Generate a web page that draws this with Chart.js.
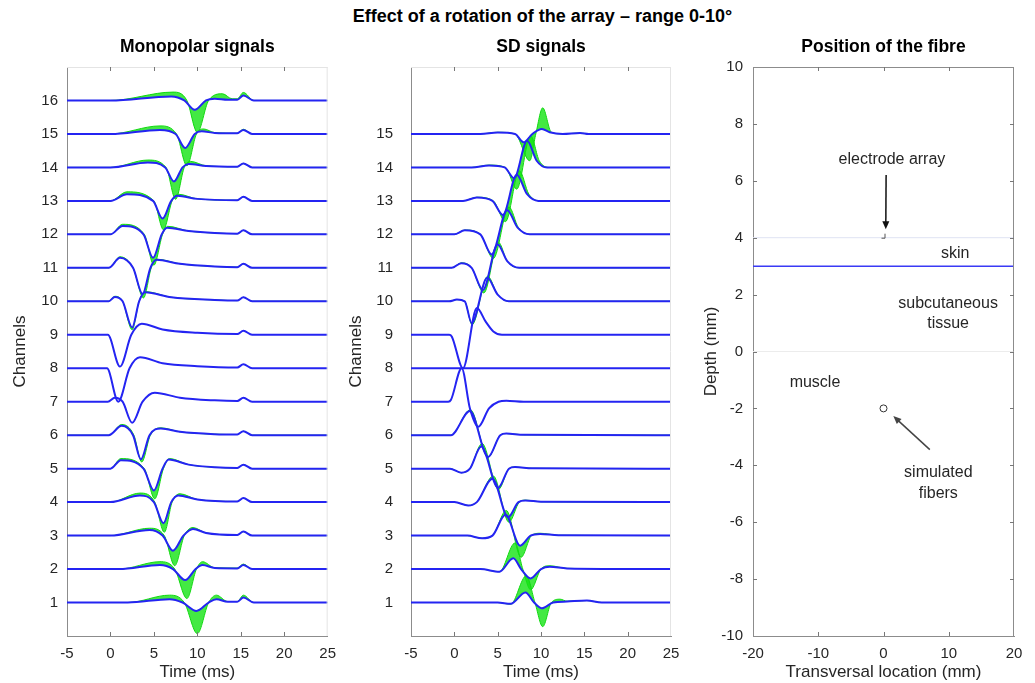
<!DOCTYPE html>
<html>
<head>
<meta charset="utf-8">
<script src="https://cdn.jsdelivr.net/npm/chart.js@4.4.1/dist/chart.umd.min.js"></script>
<style>
  html, body { margin: 0; padding: 0; background: #fff; }
  body { width: 1035px; height: 683px; position: relative; overflow: hidden; font-family: 'Liberation Sans', Arial, sans-serif; }
  #suptitle { position: absolute; top: 6px; left: 0; width: 1085px; text-align: center; font-weight: bold; font-size: 18px; color: #000; }
  .panel { position: absolute; top: 0; width: 345px; height: 683px; }
</style>
</head>
<body>
<div id="suptitle">Effect of a rotation of the array – range 0-10°</div>
<div class="panel" style="left:0px"><canvas id="monoChart" width="345" height="683"></canvas></div>
<div class="panel" style="left:345px"><canvas id="sdChart" width="345" height="683"></canvas></div>
<div class="panel" style="left:690px"><canvas id="fibreChart" width="345" height="683"></canvas></div>
<script>
// ---- data: [time ms, amplitude in channel units] ----
const timeTicks = [-5, 0, 5, 10, 15, 20, 25];
const monoChannels = [1, 2, 3, 4, 5, 6, 7, 8, 9, 10, 11, 12, 13, 14, 15, 16];
const sdChannels = [1, 2, 3, 4, 5, 6, 7, 8, 9, 10, 11, 12, 13, 14, 15];

// monopolar, blue trace (channel 1 first)
const monoBlue = [
  [[-5,0],[2,0],[6.8,0.1],[8.3,0],[9.9,-0.25],[11.3,0],[12.2,0.1],[13.5,0.02],[14.6,0.02],[15.3,0.15],[16.5,0],[25,0]],
  [[-5,0],[1,0],[5.7,0.12],[7.2,0],[8.6,-0.33],[9.8,0],[10.6,0.12],[12,0.03],[14.6,0.02],[15.3,0.12],[16.3,0],[25,0]],
  [[-5,0],[0,0],[4.5,0.17],[6,0],[7.2,-0.45],[8.4,0],[9.5,0.2],[11,0.08],[14.6,0.02],[15.3,0.12],[16.3,0],[25,0]],
  [[-5,0],[0,0],[3.4,0.2],[5,0],[6.1,-0.63],[7,0],[7.8,0.2],[10,0.08],[14.6,0.02],[15.3,0.12],[16.3,0],[25,0]],
  [[-5,0],[0,0],[1.2,0.25],[3.8,0],[5,-0.65],[6,0],[6.7,0.27],[9,0.12],[12,0.04],[14.6,0.02],[15.3,0.12],[16.3,0],[25,0]],
  [[-5,0],[-0.2,0],[1.3,0.28],[2.6,0],[3.5,-0.72],[4.5,0],[5.8,0.2],[8,0.1],[12,0.03],[14.6,0.02],[15.3,0.12],[16.3,0],[25,0]],
  [[-5,0],[-0.3,0],[0.5,0.12],[1.4,0],[2.5,-0.63],[3.7,0],[5.1,0.27],[8,0.12],[12,0.04],[14.6,0.02],[15.3,0.12],[16.3,0],[25,0]],
  [[-5,0],[-0.4,0],[0.9,-1.0],[2.2,0],[3.4,0.33],[6,0.15],[10,0.06],[14.6,0.02],[15.3,0.12],[16.3,0],[25,0]],
  [[-5,0],[-0.3,0],[1.1,-0.95],[2.4,0],[3.6,0.33],[6,0.16],[10,0.06],[14.6,0.02],[15.3,0.12],[16.3,0],[25,0]],
  [[-5,0],[-0.2,0],[0.5,0.13],[1.4,0],[2.5,-0.78],[3.3,0],[4,0.27],[7,0.12],[12,0.04],[14.6,0.02],[15.3,0.12],[16.3,0],[25,0]],
  [[-5,0],[-0.2,0],[1.1,0.3],[2.6,0],[3.7,-0.78],[4.6,0],[5.3,0.24],[8,0.12],[12,0.04],[14.6,0.02],[15.3,0.12],[16.3,0],[25,0]],
  [[-5,0],[0,0],[1.4,0.25],[3.8,0],[4.9,-0.7],[5.9,0],[6.5,0.2],[9,0.1],[12,0.04],[14.6,0.02],[15.3,0.12],[16.3,0],[25,0]],
  [[-5,0],[0,0],[1.9,0.2],[4.9,0],[6,-0.53],[7,0],[7.7,0.15],[10,0.06],[14.6,0.02],[15.3,0.12],[16.3,0],[25,0]],
  [[-5,0],[0,0],[4.3,0.15],[6.3,0],[7.3,-0.42],[8.3,0],[9,0.1],[11,0.04],[14.6,0.02],[15.3,0.12],[16.3,0],[25,0]],
  [[-5,0],[0,0],[5.7,0.12],[7.5,0],[8.6,-0.42],[9.7,0],[10.5,0.08],[12,0.03],[14.6,0.02],[15.3,0.12],[16.3,0],[25,0]],
  [[-5,0],[0,0],[7,0.12],[8.5,0],[9.7,-0.28],[11,0],[12,0.05],[13.5,0.02],[14.6,0.02],[15.3,0.15],[16.5,0],[25,0]]
];

// monopolar, outer green trace (null where the green band is not visible)
const monoGreen = [
  [[-5,0],[2,0],[6.8,0.22],[8.5,0],[10,-0.93],[11.3,0],[12.2,0.22],[13.5,0.03],[14.6,0.03],[15.3,0.22],[16.5,0],[25,0]],
  [[-5,0],[1,0],[5.7,0.22],[7.4,0],[8.8,-0.88],[9.9,0],[10.6,0.22],[12,0.04],[14.6,0.03],[15.3,0.15],[16.3,0],[25,0]],
  [[-5,0],[0,0],[4.5,0.22],[6.2,0],[7.4,-0.9],[8.5,0],[9.5,0.24],[11,0.08],[14.6,0.02],[15.3,0.12],[16.3,0],[25,0]],
  [[-5,0],[0,0],[3.4,0.27],[5.1,0],[6.2,-0.9],[7.1,0],[8,0.25],[10,0.08],[14.6,0.02],[15.3,0.12],[16.3,0],[25,0]],
  [[-5,0],[0,0],[1.2,0.3],[3.9,0],[5.1,-0.9],[6.1,0],[6.8,0.3],[9,0.12],[12,0.04],[14.6,0.02],[15.3,0.12],[16.3,0],[25,0]],
  [[-5,0],[-0.2,0],[1.3,0.32],[2.7,0],[3.6,-0.8],[4.6,0],[5.8,0.22],[8,0.1],[12,0.03],[14.6,0.02],[15.3,0.12],[16.3,0],[25,0]],
  null,
  null,
  null,
  [[-5,0],[-0.2,0],[0.5,0.15],[1.4,0],[2.5,-0.85],[3.3,0],[4,0.29],[7,0.12],[12,0.04],[14.6,0.02],[15.3,0.12],[16.3,0],[25,0]],
  [[-5,0],[-0.2,0],[1.1,0.33],[2.6,0],[3.8,-0.9],[4.7,0],[5.3,0.26],[8,0.12],[12,0.04],[14.6,0.02],[15.3,0.12],[16.3,0],[25,0]],
  [[-5,0],[0,0],[1.4,0.3],[3.9,0],[5,-0.92],[6,0],[6.6,0.24],[9,0.1],[12,0.04],[14.6,0.02],[15.3,0.12],[16.3,0],[25,0]],
  [[-5,0],[0,0],[1.9,0.27],[5,0],[6.1,-0.86],[7.1,0],[7.8,0.2],[10,0.06],[14.6,0.02],[15.3,0.12],[16.3,0],[25,0]],
  [[-5,0],[0,0],[4.3,0.22],[6.4,0],[7.5,-0.95],[8.5,0],[9.2,0.18],[11,0.05],[14.6,0.02],[15.3,0.12],[16.3,0],[25,0]],
  [[-5,0],[0,0],[5.7,0.24],[7.6,0],[8.8,-0.95],[9.9,0],[10.7,0.15],[12,0.04],[14.6,0.02],[15.3,0.14],[16.3,0],[25,0]],
  [[-5,0],[0,0],[7.2,0.25],[8.8,0],[10,-0.95],[11.3,0],[12.9,0.2],[14,0.05],[14.6,0.05],[15.3,0.24],[16.5,0],[25,0]]
];

// single differential, blue trace (channel 1 first)
const sdBlue = [
  [[-5,0],[5,0],[6.5,-0.04],[8.2,0.3],[9.2,0],[10.1,-0.17],[11.4,0],[13,0.03],[15.3,0.06],[17,0],[25,0]],
  [[-5,0],[3,0],[5.2,-0.08],[6.8,0.32],[7.7,0],[8.8,-0.28],[10,0],[11,0.07],[13,0.02],[25,0]],
  [[-5,0],[1.5,0],[3.2,-0.08],[4.4,0],[5.9,0.62],[7.6,-0.3],[8.8,0],[9.9,0.05],[12,0.01],[25,0]],
  [[-5,0],[0,0],[1.6,-0.1],[2.6,0],[4.4,0.7],[6.2,-0.45],[7.4,0],[8.2,0.05],[10,0.01],[25,0]],
  [[-5,0],[-0.5,0],[0.8,-0.12],[1.8,0],[3.1,0.66],[5.06,-0.57],[6.3,0],[7,0.05],[9,0.01],[25,0]],
  [[-5,0],[-0.4,0],[1.8,0.72],[3.9,-0.65],[5.3,0],[6,0.05],[8,0.01],[25,0]],
  [[-5,0],[-0.7,0],[-0.4,0.05],[0.85,1.0],[1.8,-0.2],[2.76,-0.75],[4,-0.2],[5.1,0],[6,0.03],[8,0],[25,0]],
  [[-5,0],[25,0]],
  [[-5,0],[-0.6,0],[-0.3,-0.05],[1.0,-1.0],[2.6,0.8],[3.6,0.4],[4.5,0.1],[5.5,0],[25,0]],
  [[-5,0],[-0.6,0],[0.3,0.05],[1.2,0],[2.0,-0.65],[3.8,0.7],[5,0.2],[6.3,0],[25,0]],
  [[-5,0],[-0.3,0],[0.8,0.14],[2,0],[3.3,-0.66],[5.0,0.7],[6.1,0.2],[7.5,0],[25,0]],
  [[-5,0],[0,0],[1.2,0.12],[3,0],[4.3,-0.6],[6.1,0.72],[7.3,0.2],[8.7,0],[25,0]],
  [[-5,0],[1,0],[2.6,0.1],[4.4,0],[5.6,-0.42],[7.2,0.78],[8.4,0.2],[9.7,0],[25,0]],
  [[-5,0],[2,0],[4,0.06],[5.8,0],[6.9,-0.32],[8.4,0.8],[9.5,0.2],[10.7,0],[25,0]],
  [[-5,0],[3,0],[5,0.04],[7,0],[8.0,-0.25],[9,0],[10.1,0.15],[11,0.05],[12.5,0],[14.5,0.03],[15.5,0],[25,0]]
];

// single differential, outer green trace
const sdGreen = [
  [[-5,0],[5,0],[6.5,-0.05],[8.3,0.8],[9.3,0],[10.2,-0.72],[11.2,0],[12.2,0.1],[13,0.04],[15.3,0.06],[17,0],[25,0]],
  [[-5,0],[3,0],[5.2,-0.08],[7,0.78],[7.9,0],[8.8,-0.62],[10,0],[11,0.1],[13,0.02],[25,0]],
  [[-5,0],[1.5,0],[3.2,-0.08],[4.4,0],[6.0,0.75],[7.7,-0.65],[8.9,0],[9.9,0.07],[12,0.01],[25,0]],
  [[-5,0],[0,0],[1.6,-0.1],[2.6,0],[4.5,0.78],[6.3,-0.6],[7.5,0],[8.2,0.06],[10,0.01],[25,0]],
  [[-5,0],[-0.5,0],[0.8,-0.12],[1.8,0],[3.2,0.75],[5.1,-0.62],[6.3,0],[7,0.05],[9,0.01],[25,0]],
  [[-5,0],[-0.4,0],[1.85,0.76],[3.9,-0.66],[5.3,0],[6,0.05],[8,0.01],[25,0]],
  null,
  null,
  null,
  [[-5,0],[-0.6,0],[0.3,0.05],[1.2,0],[2.05,-0.7],[3.85,0.75],[5,0.2],[6.3,0],[25,0]],
  [[-5,0],[-0.3,0],[0.8,0.15],[2,0],[3.4,-0.75],[5.1,0.76],[6.1,0.2],[7.5,0],[25,0]],
  [[-5,0],[0,0],[1.2,0.13],[3,0],[4.5,-0.72],[6.3,0.82],[7.4,0.2],[8.8,0],[25,0]],
  [[-5,0],[1,0],[2.6,0.11],[4.5,0],[5.9,-0.62],[7.5,0.9],[8.6,0.2],[9.9,0],[25,0]],
  [[-5,0],[2,0],[4,0.07],[5.9,0],[7.2,-0.65],[8.8,0.95],[9.8,0.2],[11,0],[25,0]],
  [[-5,0],[3,0],[5,0.05],[7,0],[8.7,-0.8],[9.4,0],[10.2,0.78],[11.2,0.05],[12.5,0],[14.5,0.03],[15.5,0],[25,0]]
];

// position of the fibre panel
const transTicks = [-20, -10, 0, 10, 20];
const depthTicks = [-10, -8, -6, -4, -2, 0, 2, 4, 6, 8, 10];
const layerDepths = [4, 3, 0];          // electrode plane, skin / fat, fat / muscle
const fibrePos = [[0, -2]];
const electrodePos = [0, 4];

// ---- styling ----
const BLUE = '#2424f2';
const GREEN = '#10d810';
const GREEN_FILL = 'rgba(20, 228, 20, 0.8)';
const TXT = '#262626';
Chart.defaults.font.family = "'Liberation Sans', Arial, sans-serif";
Chart.defaults.color = TXT;
Chart.defaults.animation = false;

function toXY(trace, ch) {
  return trace.map(p => ({ x: p[0], y: ch + p[1] }));
}

function waveDatasets(blue, green) {
  const ds = [];
  blue.forEach((trace, i) => {
    const ch = i + 1;
    const blueIdx = ds.length;
    ds.push({
      data: toXY(trace, ch), borderColor: BLUE, borderWidth: 2,
      fill: false, order: 0, showLine: true
    });
    if (green[i]) {
      ds.push({
        data: toXY(green[i], ch), borderColor: GREEN, borderWidth: 1,
        backgroundColor: GREEN_FILL, fill: blueIdx, order: 1, showLine: true
      });
    }
  });
  return ds;
}

// light top/right box edges, MATLAB-style inner ticks and the panel title
const framePlugin = {
  id: 'frame',
  afterDraw(chart, args, opts) {
    const { ctx, chartArea: a, scales } = chart;
    ctx.save();
    ctx.lineWidth = 1;
    ctx.strokeStyle = opts.edgeColor;
    ctx.beginPath();
    ctx.moveTo(a.left, a.top + 0.5); ctx.lineTo(a.right, a.top + 0.5);
    ctx.moveTo(a.right - 0.5, a.top); ctx.lineTo(a.right - 0.5, a.bottom);
    ctx.stroke();

    ctx.strokeStyle = '#777';
    ctx.beginPath();
    scales.x.ticks.forEach(t => {
      const px = Math.round(scales.x.getPixelForValue(t.value)) + 0.5;
      if (px <= a.left + 2 || px >= a.right - 2) return;
      ctx.moveTo(px, a.bottom); ctx.lineTo(px, a.bottom - 4);
      ctx.moveTo(px, a.top); ctx.lineTo(px, a.top + 4);
    });
    if (opts.yTicks) {
      scales.y.ticks.forEach(t => {
        const py = Math.round(scales.y.getPixelForValue(t.value)) + 0.5;
        if (py <= a.top + 2 || py >= a.bottom - 2) return;
        ctx.moveTo(a.left, py); ctx.lineTo(a.left + 4, py);
        ctx.moveTo(a.right, py); ctx.lineTo(a.right - 4, py);
      });
    }
    ctx.stroke();

    ctx.fillStyle = '#000';
    ctx.font = "bold 17.5px 'Liberation Sans', Arial, sans-serif";
    ctx.textAlign = 'center';
    ctx.textBaseline = 'middle';
    ctx.fillText(opts.title, (a.left + a.right) / 2, 47);
    ctx.restore();
  }
};

function axisFont(size) { return { size: size }; }

function waveOptions(title, yLabels, yWidth, rightPad, yPad, yTitlePad) {
  return {
    responsive: false,
    layout: { padding: { top: 67, right: rightPad, left: 0, bottom: 0 } },
    elements: { point: { radius: 0 }, line: { cubicInterpolationMode: 'monotone' } },
    plugins: {
      legend: { display: false },
      tooltip: { enabled: false },
      frame: { title: title, edgeColor: '#e4e4e4', yTicks: false }
    },
    scales: {
      x: {
        type: 'linear', min: -5, max: 25,
        afterBuildTicks: s => { s.ticks = timeTicks.map(v => ({ value: v })); },
        afterFit: s => { s.height = 47; },
        grid: { display: false, drawTicks: false },
        border: { display: true, color: '#8c8c8c' },
        ticks: { font: axisFont(15), padding: 9, color: TXT, maxRotation: 0 },
        title: { display: true, text: 'Time (ms)', font: axisFont(17), color: TXT, padding: { top: 0, bottom: 0 } }
      },
      y: {
        type: 'linear', min: 0, max: 17,
        afterBuildTicks: s => { s.ticks = yLabels.map(v => ({ value: v })); },
        afterFit: s => { s.width = yWidth; },
        grid: { display: false, drawTicks: false },
        border: { display: true, color: '#8c8c8c' },
        ticks: { font: axisFont(15), padding: yPad, color: TXT },
        title: { display: true, text: 'Channels', font: axisFont(17), color: TXT, padding: { top: yTitlePad, bottom: 0 } }
      }
    }
  };
}

new Chart(document.getElementById('monoChart'), {
  type: 'scatter',
  data: { datasets: waveDatasets(monoBlue, monoGreen) },
  options: waveOptions('Monopolar signals', monoChannels, 67, 17, 9, 10),
  plugins: [framePlugin]
});

new Chart(document.getElementById('sdChart'), {
  type: 'scatter',
  data: { datasets: waveDatasets(sdBlue, sdGreen) },
  options: waveOptions('SD signals', sdChannels, 66, 19, 18, 1),
  plugins: [framePlugin]
});

// text labels and arrows of the fibre panel (data coordinates)
const fibreNotes = [
  { text: 'electrode array', x: 1.3, y: 6.75 },
  { text: 'skin', x: 11, y: 3.45 },
  { text: 'subcutaneous', x: 9.9, y: 1.7 },
  { text: 'tissue', x: 9.9, y: 0.97 },
  { text: 'muscle', x: -10.5, y: -1.1 },
  { text: 'simulated', x: 8.4, y: -4.25 },
  { text: 'fibers', x: 8.4, y: -4.98 }
];
const fibreArrows = [
  { from: [0.4, 6.2], to: [0.35, 4.3], color: '#111' },
  { from: [7.1, -3.45], to: [1.5, -2.27], color: '#444' }
];

const notesPlugin = {
  id: 'notes',
  afterDatasetsDraw(chart) {
    const { ctx, scales: { x, y } } = chart;
    const P = (vx, vy) => [x.getPixelForValue(vx), y.getPixelForValue(vy)];
    ctx.save();
    ctx.font = "16px 'Liberation Sans', Arial, sans-serif";
    ctx.fillStyle = TXT;
    ctx.textAlign = 'center';
    ctx.textBaseline = 'middle';
    fibreNotes.forEach(n => { const [px, py] = P(n.x, n.y); ctx.fillText(n.text, px, py); });

    fibreArrows.forEach(ar => {
      const [x0, y0] = P(ar.from[0], ar.from[1]);
      const [x1, y1] = P(ar.to[0], ar.to[1]);
      const ang = Math.atan2(y1 - y0, x1 - x0);
      ctx.strokeStyle = ar.color; ctx.fillStyle = ar.color; ctx.lineWidth = 1.5;
      ctx.beginPath(); ctx.moveTo(x0, y0);
      ctx.lineTo(x1 - 6 * Math.cos(ang), y1 - 6 * Math.sin(ang)); ctx.stroke();
      ctx.beginPath();
      ctx.moveTo(x1, y1);
      ctx.lineTo(x1 - 8 * Math.cos(ang) + 3.5 * Math.sin(ang), y1 - 8 * Math.sin(ang) - 3.5 * Math.cos(ang));
      ctx.lineTo(x1 - 8 * Math.cos(ang) - 3.5 * Math.sin(ang), y1 - 8 * Math.sin(ang) + 3.5 * Math.cos(ang));
      ctx.closePath(); ctx.fill();
    });

    // electrode marker
    const [ex, ey] = P(electrodePos[0], electrodePos[1]);
    ctx.strokeStyle = '#555'; ctx.lineWidth = 1;
    ctx.beginPath();
    ctx.moveTo(ex + 1.5, ey - 4); ctx.lineTo(ex + 1.5, ey + 0.5); ctx.lineTo(ex - 2, ey + 0.5);
    ctx.stroke();
    ctx.restore();
  }
};

const layerColors = ['#dfe3f3', '#3a3af5', '#ececec'];
const layerWidths = [1, 1.5, 1];

new Chart(document.getElementById('fibreChart'), {
  type: 'scatter',
  data: {
    datasets: layerDepths.map((d, i) => ({
      data: [{ x: -20, y: d }, { x: 20, y: d }], showLine: true,
      borderColor: layerColors[i], borderWidth: layerWidths[i], pointRadius: 0, order: 2
    })).concat([{
      data: fibrePos.map(p => ({ x: p[0], y: p[1] })),
      pointRadius: 3.5, pointBorderColor: '#333', pointBackgroundColor: '#fff',
      pointBorderWidth: 1, showLine: false, order: 0
    }])
  },
  options: {
    responsive: false,
    layout: { padding: { top: 67, right: 21, left: 0, bottom: 0 } },
    plugins: {
      legend: { display: false },
      tooltip: { enabled: false },
      frame: { title: 'Position of the fibre', edgeColor: '#8c8c8c', yTicks: true }
    },
    scales: {
      x: {
        type: 'linear', min: -20, max: 20,
        afterBuildTicks: s => { s.ticks = transTicks.map(v => ({ value: v })); },
        afterFit: s => { s.height = 47; },
        grid: { display: false, drawTicks: false },
        border: { display: true, color: '#8c8c8c' },
        ticks: { font: axisFont(15), padding: 9, color: TXT, maxRotation: 0 },
        title: { display: true, text: 'Transversal location (mm)', font: axisFont(17), color: TXT, padding: { top: 0, bottom: 0 } }
      },
      y: {
        type: 'linear', min: -10, max: 10,
        afterBuildTicks: s => { s.ticks = depthTicks.map(v => ({ value: v })); },
        afterFit: s => { s.width = 63; },
        grid: { display: false, drawTicks: false },
        border: { display: true, color: '#8c8c8c' },
        ticks: { font: axisFont(15), padding: 10, color: TXT },
        title: { display: true, text: 'Depth (mm)', font: axisFont(17), color: TXT, padding: { top: 11, bottom: 0 } }
      }
    }
  },
  plugins: [framePlugin, notesPlugin]
});
</script>
</body>
</html>
